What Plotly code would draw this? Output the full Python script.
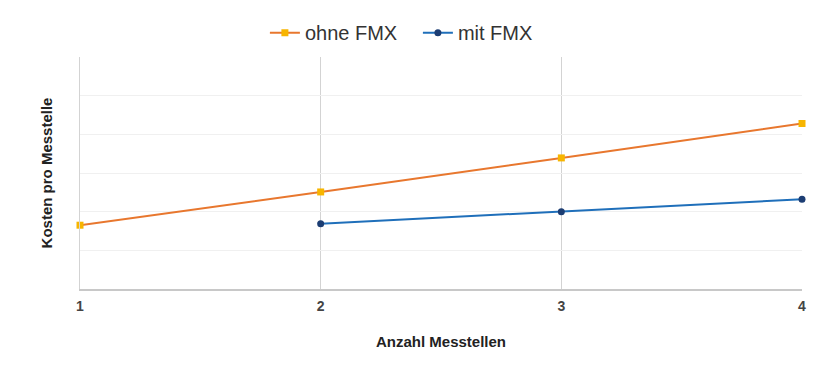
import plotly.graph_objects as go

x_values = [1, 2, 3, 4]
ohne_fmx = [1.65, 2.51, 3.39, 4.28]
mit_fmx_x = [2, 3, 4]
mit_fmx = [1.69, 2.0, 2.32]
x_ticks = [1, 2, 3, 4]

fig = go.Figure()
fig.add_trace(go.Scatter(
    x=x_values, y=ohne_fmx, name="ohne FMX", mode="lines+markers",
    line=dict(color="#e8772e", width=2),
    marker=dict(symbol="square", size=7, color="#f7b500"),
    cliponaxis=False,
))
fig.add_trace(go.Scatter(
    x=mit_fmx_x, y=mit_fmx, name="mit FMX", mode="lines+markers",
    line=dict(color="#1f6fba", width=2),
    marker=dict(symbol="circle", size=7, color="#1c3d73"),
    cliponaxis=False,
))

fig.update_layout(
    width=832, height=368,
    margin=dict(l=80, r=30, t=57, b=79),
    paper_bgcolor="white", plot_bgcolor="white",
    font=dict(family="Liberation Sans, Arial, sans-serif", color="#333333"),
    showlegend=True,
    legend=dict(orientation="h", x=0.468, xanchor="center", y=1.105, yanchor="middle",
                font=dict(size=20, color="#333333"), itemwidth=30, traceorder="normal",
                entrywidth=108, entrywidthmode="pixels"),
    xaxis=dict(
        range=[1, 4], tickvals=x_ticks, ticktext=[str(v) for v in x_ticks],
        showgrid=True, gridcolor="#d3d3d3", gridwidth=1,
        showline=True, linecolor="#c8c8c8", linewidth=2,
        zeroline=False, ticks="outside", ticklen=3, tickcolor="rgba(0,0,0,0)",
        tickfont=dict(size=14, color="#444444", family="Liberation Sans, Arial, sans-serif", weight="bold"),
        title=dict(text="Anzahl Messtellen", font=dict(size=15, color="#222222", weight="bold"), standoff=24),
    ),
    yaxis=dict(
        range=[0, 6], dtick=1, showticklabels=False,
        showgrid=True, gridcolor="#f0f0f0", gridwidth=1,
        showline=True, linecolor="#d3d3d3", linewidth=1,
        zeroline=False,
        title=dict(text="Kosten pro Messtelle", font=dict(size=15, color="#222222", weight="bold"), standoff=22),
    ),
)

fig.write_html("out.html")
